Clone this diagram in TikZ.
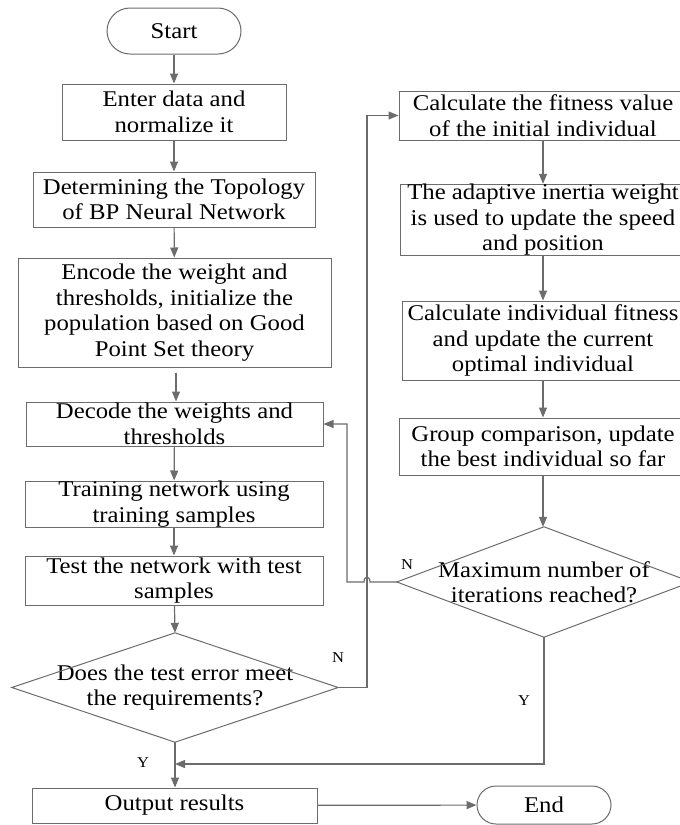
\documentclass[tikz,border=0pt]{standalone}
\usepackage{fontspec}
\setmainfont{Liberation Serif}[FakeStretch=1.1]
\usetikzlibrary{arrows.meta,calc}
\definecolor{lc}{RGB}{108,108,108}
\begin{document}
\begin{tikzpicture}[x=1pt,y=-1pt,
  box/.style={draw=lc,line width=1pt,rectangle,inner sep=0pt,align=center,
    font=\fontsize{22.5}{25.5}\selectfont},
  pill/.style={box,rounded corners=#1},
  dbox/.style={rectangle,inner sep=0pt,align=center,font=\fontsize{22.5}{25.5}\selectfont},
  arr/.style={draw=lc,line width=1.2pt,-{Triangle[length=10pt,width=8pt]}},
  ln/.style={draw=lc,line width=1.2pt},
  lab/.style={font=\fontsize{15}{17}\selectfont,inner sep=0pt}]
\path[use as bounding box,clip] (0,0) rectangle (680,825);
\fill[white] (0,0) rectangle (680,825);
% left column
\node[pill=23pt,minimum width=134pt,minimum height=46pt] (start) at (174,31) {Start};
\node[box,minimum width=224pt,minimum height=56pt] (enter) at (174,112) {Enter data and\\normalize it};
\node[box,minimum width=282pt,minimum height=55pt] (topo) at (174,199.5) {Determining the Topology\\of BP Neural Network};
\node[box,minimum width=313pt,minimum height=109pt] (encode) at (174.5,312.5) {Encode the weight and\\thresholds, initialize the\\population based on Good\\Point Set theory};
\node[box,minimum width=297pt,minimum height=44pt] (decode) at (174.5,424) {Decode the weights and\\thresholds};
\node[box,minimum width=298pt,minimum height=46pt] (train) at (174,504) {Training network using\\training samples};
\node[box,minimum width=298pt,minimum height=49pt] (test) at (174,580.5) {Test the network with test\\samples};
\node[dbox,minimum width=326pt,minimum height=109pt] (dia1) at (175,687.5) {Does the test error meet\\the requirements?};
\draw[lc,line width=1pt] (dia1.north) -- (dia1.east) -- (dia1.south) -- (dia1.west) -- cycle;
\node[box,minimum width=285pt,minimum height=35pt] (out) at (174.5,805.5) {Output results};
\node[pill=19pt,minimum width=134pt,minimum height=38pt] (end) at (544,805) {End};
% right column
\node[box,minimum width=288pt,minimum height=49pt] (calc0) at (543,115.5) {Calculate the fitness value\\of the initial individual};
\node[box,minimum width=286pt,minimum height=66pt] (adapt) at (543,220) {The adaptive inertia weight\\is used to update the speed\\and position};
\node[box,minimum width=282pt,minimum height=79pt] (calcind) at (543,340.5) {Calculate individual fitness\\and update the current\\optimal individual};
\node[box,minimum width=288pt,minimum height=57pt] (group) at (543,446.5) {Group comparison, update\\the best individual so far};
\node[dbox,minimum width=294pt,minimum height=110pt] (dia2) at (544,582) {Maximum number of\\iterations reached?};
\draw[lc,line width=1pt] (dia2.north) -- (dia2.east) -- (dia2.south) -- (dia2.west) -- cycle;
% coordinates
\coordinate (c1) at (367,687.5);
\coordinate (c2) at (367,115.5);
\coordinate (h1) at (370,582);
\coordinate (h2) at (364,582);
\coordinate (c3) at (347,582);
\coordinate (c4) at (347,424);
\coordinate (c5) at (544,764);
\coordinate (c6) at (175,764);
% connectors left
\draw[arr] (start) -- (enter);
\draw[arr] (enter) -- (topo);
\draw[arr] (topo) -- (encode);
\draw[arr,shorten <=5pt] ([xshift=1.5pt]encode.south) -- ([xshift=1.5pt]decode.north);
\draw[arr] (decode) -- (train);
\draw[arr] (train) -- (test);
\draw[arr] (test) -- (dia1.north);
\draw[arr] (dia1.south) -- (out.north -| dia1.south);
\draw[arr] (out) -- (end);
% right column
\draw[arr] (calc0) -- (adapt);
\draw[arr] (adapt) -- (calcind);
\draw[arr] (calcind) -- (group);
\draw[arr] (group.south) -- (group.south |- dia2.north);
% loops
\draw[arr] (dia1.east) -- (c1) -- (c2) -- (calc0.west);
\draw[arr] (dia2.west) -- (h1) .. controls (370,575.5) and (364,575.5) .. (h2) -- (c3) -- (c4) -- (decode.east);
\draw[arr] (dia2.south) -- (c5) -- (c6);
% labels
\node[lab] (n1) at (338,658) {N};
\node[lab] (n2) at (407,565) {N};
\node[lab] (y1) at (143,763) {Y};
\node[lab] (y2) at (524,701) {Y};
\end{tikzpicture}
\end{document}
